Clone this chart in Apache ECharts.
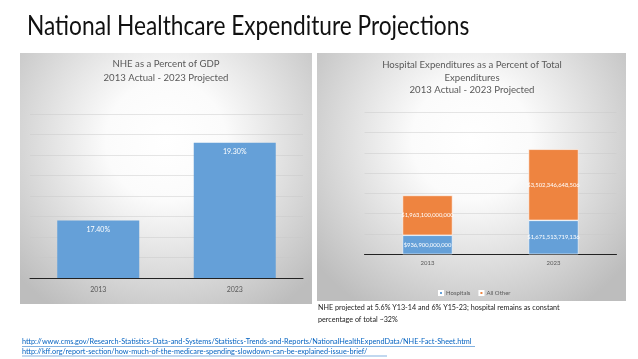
<!DOCTYPE html>
<html><head><meta charset="utf-8">
<style>html,body{margin:0;padding:0;background:#fff;}#c{width:638px;height:359px;}</style>
<script src="https://cdn.jsdelivr.net/npm/echarts@6/dist/echarts.min.js"></script>
</head><body><div id="c"></div>
<script>
const years = ['2013', '2023'];
const nhePctGdp = [17.40, 19.30];
const hospitals = [936900000000, 1671513719136];
const allOther = [1963100000000, 3502346648506];
const seriesNames = ['Hospitals', 'All Other'];

const FONT = 'Lato';
const chart = echarts.init(document.getElementById('c'));
function money(v){ return '$' + v.toLocaleString('en-US'); }
function panelBg(x, y, w, h){
  return {type:'rect', shape:{x:x, y:y, width:w, height:h}, z:-10,
    style:{fill:new echarts.graphic.RadialGradient(0.5, 0.35, 0.8, [
      {offset:0, color:'#ffffff'}, {offset:0.3, color:'#fbfbfb'}, {offset:1, color:'#bdbdbd'}])}};
}
const grey = '#595959';
chart.setOption({
  animation:false,
  graphic:[
    panelBg(20, 53, 292, 251),
    panelBg(317, 53, 309, 248),
    {type:'text', x:27, y:14, scaleX:0.873, style:{text:'National Healthcare Expenditure Projections', font:'26px '+FONT, fill:'#111'}},
    {type:'text', x:166, y:64, style:{text:'NHE as a Percent of GDP', font:'9.6px '+FONT, fill:grey, align:'center', verticalAlign:'middle'}},
    {type:'text', x:166, y:78, style:{text:'2013 Actual - 2023 Projected', font:'9.6px '+FONT, fill:grey, align:'center', verticalAlign:'middle'}},
    {type:'text', x:472, y:65, style:{text:'Hospital Expenditures as a Percent of Total', font:'9.6px '+FONT, fill:grey, align:'center', verticalAlign:'middle'}},
    {type:'text', x:472, y:77.5, style:{text:'Expenditures', font:'9.6px '+FONT, fill:grey, align:'center', verticalAlign:'middle'}},
    {type:'text', x:472, y:90, style:{text:'2013 Actual - 2023 Projected', font:'9.6px '+FONT, fill:grey, align:'center', verticalAlign:'middle'}},
    {type:'text', x:318, y:308, style:{text:'NHE projected at 5.6% Y13-14 and 6% Y15-23; hospital remains as constant', font:'7.2px '+FONT, fill:'#222', verticalAlign:'middle'}},
    {type:'text', x:318, y:320, style:{text:'percentage of total ~32%', font:'7.2px '+FONT, fill:'#222', verticalAlign:'middle'}},
    {type:'text', x:22, y:342, style:{text:'http://www.cms.gov/Research-Statistics-Data-and-Systems/Statistics-Trends-and-Reports/NationalHealthExpendData/NHE-Fact-Sheet.html', font:'7.3px '+FONT, fill:'#0563c1', verticalAlign:'middle'}},
    {type:'text', x:22, y:351.5, style:{text:'http://kff.org/report-section/how-much-of-the-medicare-spending-slowdown-can-be-explained-issue-brief/', font:'7.3px '+FONT, fill:'#0563c1', verticalAlign:'middle'}},
    {type:'line', shape:{x1:22, y1:346.5, x2:475, y2:346.5}, style:{stroke:'#0563c1', lineWidth:0.5}},
    {type:'line', shape:{x1:22, y1:356, x2:387, y2:356}, style:{stroke:'#0563c1', lineWidth:0.5}}
  ],
  legend:{data:seriesNames, left:433, top:285, orient:'horizontal', itemWidth:4, itemHeight:4, itemGap:8, icon:'rect',
    textStyle:{fontSize:6, color:grey, fontFamily:FONT, padding:[0,0,0,-2]}},
  grid:[
    {left:30, right:335, top:114, bottom:81},
    {left:364.5, right:21.5, top:112.2, bottom:104.7}
  ],
  xAxis:[
    {type:'category', gridIndex:0, data:years, axisLine:{lineStyle:{color:'#222', width:1}}, axisTick:{show:false},
     axisLabel:{fontSize:7, color:grey, fontFamily:FONT, margin:8}},
    {type:'category', gridIndex:1, data:years, axisLine:{lineStyle:{color:'#222', width:1}}, axisTick:{show:false},
     axisLabel:{fontSize:6, color:grey, fontFamily:FONT, margin:6}}
  ],
  yAxis:[
    {type:'value', gridIndex:0, min:16, max:20, interval:0.5, axisLabel:{show:false}, axisLine:{show:false}, axisTick:{show:false},
     splitLine:{lineStyle:{color:'rgba(200,200,200,0.45)', width:1}}},
    {type:'value', gridIndex:1, min:0, max:7e12, interval:1e12, axisLabel:{show:false}, axisLine:{show:false}, axisTick:{show:false},
     splitLine:{lineStyle:{color:'rgba(200,200,200,0.45)', width:1}}}
  ],
  series:[
    {type:'bar', xAxisIndex:0, yAxisIndex:0, data:nhePctGdp, barWidth:82, itemStyle:{color:'#65a0d8'},
     label:{show:true, position:'insideTop', distance:6, formatter:p=>p.value.toFixed(2)+'%', color:'#fff', fontSize:7, fontFamily:FONT}},
    {type:'bar', name:seriesNames[0], xAxisIndex:1, yAxisIndex:1, stack:'t', data:hospitals, barWidth:50,
     itemStyle:{color:'#65a0d8', borderColor:'#fff', borderWidth:0.6},
     label:{show:true, position:'inside', formatter:p=>money(p.value), color:'#fff', fontSize:5.8, fontFamily:FONT}},
    {type:'bar', name:seriesNames[1], xAxisIndex:1, yAxisIndex:1, stack:'t', data:allOther, barWidth:50,
     itemStyle:{color:'#ee8440', borderColor:'#fff', borderWidth:0.6},
     label:{show:true, position:'inside', formatter:p=>money(p.value), color:'#fff', fontSize:5.8, fontFamily:FONT}}
  ]
});
</script></body></html>
